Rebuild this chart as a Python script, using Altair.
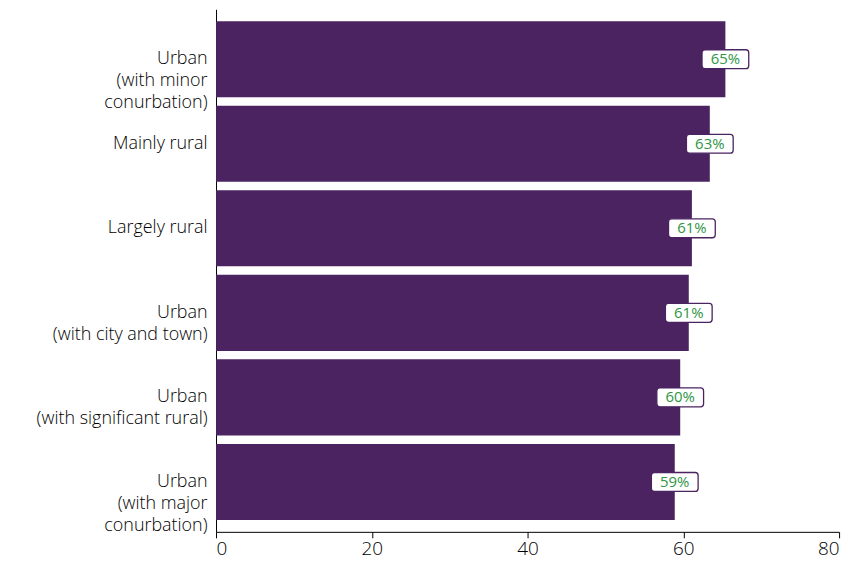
import altair as alt
import pandas as pd

categories = [
    "Urban|(with minor|conurbation)",
    "Mainly rural",
    "Largely rural",
    "Urban|(with city and town)",
    "Urban|(with significant rural)",
    "Urban|(with major|conurbation)",
]
values = [65.4, 63.4, 61.1, 60.7, 59.6, 58.9]
labels = ["65%", "63%", "61%", "61%", "60%", "59%"]

df = pd.DataFrame({"cat": categories, "value": values, "label": labels})

BAR = "#4a2360"
FONT = "Open Sans"

y_enc = alt.Y(
    "cat:N",
    sort=categories,
    title=None,
    scale=alt.Scale(paddingInner=0.1, paddingOuter=0.14),
    axis=alt.Axis(
        labelExpr="split(datum.label, '|')",
        labelFontSize=18,
        labelFont=FONT,
        labelFontWeight=300,
        labelColor="#000000",
        labelLineHeight=22,
        labelPadding=9,
        ticks=False,
        grid=False,
        domainColor="#000000",
        domainWidth=1,
        labelLimit=300,
    ),
)

base = alt.Chart(df)

bars = base.mark_bar(color=BAR).encode(
    x=alt.X(
        "value:Q",
        title=None,
        scale=alt.Scale(domain=[0, 80]),
        axis=alt.Axis(
            values=[0, 20, 40, 60, 80],
            grid=False,
            labelFontSize=19,
            labelFont=FONT,
            labelFontWeight=300,
            labelColor="#000000",
            tickColor="#000000",
            tickSize=6,
            domainColor="#000000",
            labelPadding=2,
        ),
    ),
    y=y_enc,
)

boxes = base.transform_calculate(
    lo="datum.value - 3.0", hi="datum.value + 3.0"
).mark_bar(
    height=19, fill="white", stroke="#4a2360", strokeWidth=1.3, cornerRadius=3
).encode(
    x="lo:Q",
    x2="hi:Q",
    y=alt.Y("cat:N", sort=categories),
)

texts = base.mark_text(
    color="#2e9444", fontSize=15, font=FONT, align="center", baseline="middle"
).encode(
    x="value:Q",
    y=alt.Y("cat:N", sort=categories),
    text="label:N",
)

chart = (
    alt.layer(bars, boxes, texts)
    .properties(
        width=626,
        height=525,
        background="white",
        autosize=alt.AutoSizeParams(type="none"),
        padding={"left": 209, "top": 0, "right": 20, "bottom": 30},
    )
    .configure_view(strokeWidth=0, stroke=None)
    .configure_axis(grid=False)
)

chart.save("out.html", embed_options={"renderer": "svg", "actions": False})
